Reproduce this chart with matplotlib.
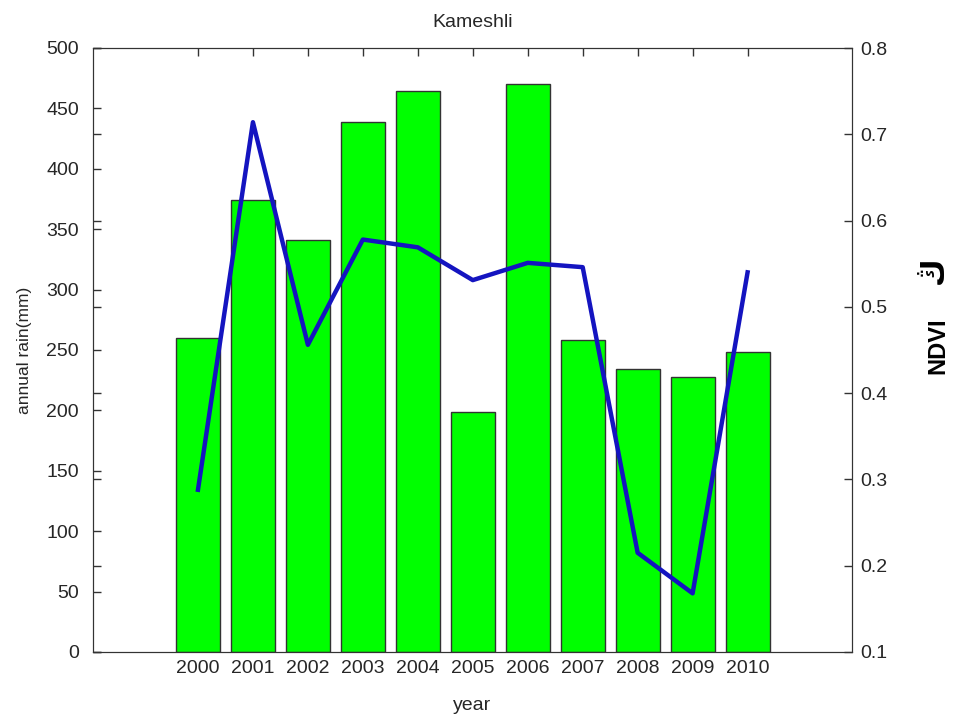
import matplotlib
matplotlib.use("Agg")
import matplotlib.pyplot as plt
import numpy as np

plt.rcParams['font.family'] = ['Liberation Sans', 'DejaVu Sans']

years = [2000, 2001, 2002, 2003, 2004, 2005, 2006, 2007, 2008, 2009, 2010]
rain_mm = [260, 374, 341, 439, 464, 199, 470, 258, 234, 228, 248]
ndvi = [0.288, 0.714, 0.456, 0.578, 0.569, 0.531, 0.551, 0.546, 0.215, 0.168, 0.540]
rain_ticks = list(range(0, 501, 50))
ndvi_ticks = [0.1, 0.2, 0.3, 0.4, 0.5, 0.6, 0.7, 0.8]

txt = '#262626'
edge = '#333333'

fig = plt.figure(figsize=(9.54, 7.17), dpi=100)
ax = fig.add_axes([93/954, 1-652/717, (852-93)/954, (652-48)/717])

ax.bar(years, rain_mm, width=0.8, color='#00ff00', edgecolor=edge, linewidth=1.0, zorder=2)
ax.set_xlim(1998.09, 2011.9)
ax.set_ylim(0, 500)
ax.set_xticks(years)
ax.set_yticks(rain_ticks)
ax.tick_params(direction='in', length=6, width=1, colors=edge, labelcolor=txt,
               labelsize=14, top=True, right=True)
ax.tick_params(axis='y', pad=10)
ax.tick_params(axis='x', pad=6)
ax.set_xlabel('year', fontsize=14, color=txt, labelpad=14)
ax.set_ylabel('annual rain(mm)', fontsize=12.5, color=txt, labelpad=10)
ax.set_title('Kameshli', fontsize=14, color=txt, pad=15)
for s in ax.spines.values():
    s.set_color(edge)

ax2 = ax.twinx()
ax2.plot(years, ndvi, color='#1414c0', linewidth=3.2, zorder=3)
ax2.set_ylim(0.1, 0.8)
ax2.set_yticks(ndvi_ticks)
ax2.set_yticklabels([f'{v:.1f}' for v in ndvi_ticks])
ax2.tick_params(direction='in', length=6, width=1, colors=edge, labelcolor=txt,
                labelsize=14, left=True, labelleft=False, pad=6)
ax2.set_ylabel('NDVI', fontsize=17, fontweight='bold', color='black',
               rotation=90)
ax2.yaxis.set_label_coords((926 - 93) / (852 - 93), (652 - 346) / 604)
ax2.text((935 - 93) / (852 - 93), (652 - 270) / 604, 'ڭ', transform=ax2.transAxes,
         rotation=90, fontsize=22, fontweight='bold', color='black',
         ha='center', va='center')
for s in ax2.spines.values():
    s.set_color(edge)

fig.savefig('out.png', dpi=100, facecolor='white')
